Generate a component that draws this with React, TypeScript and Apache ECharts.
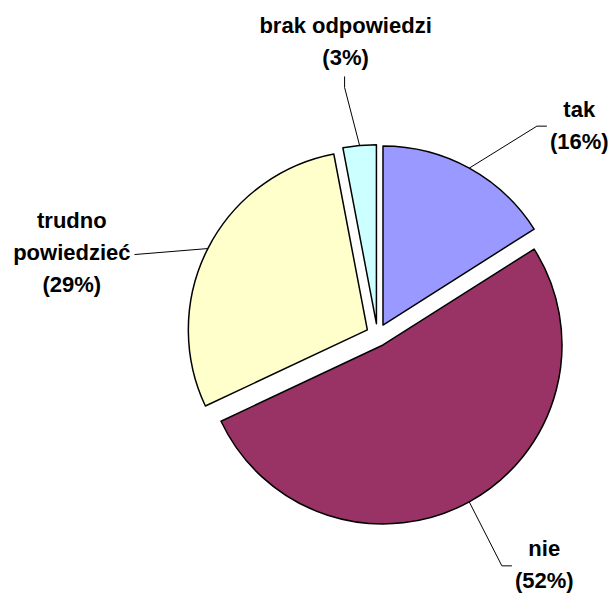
import { useEffect, useRef } from 'react';
import * as echarts from 'echarts';

const categories = ['tak', 'nie', 'trudno\npowiedzieć', 'brak odpowiedzi'];
const values = [16, 52, 29, 3];
const colors = ['#9999FF', '#993366', '#FFFFCC', '#CCFFFF'];
// label centre offset from the label line's anchor on the arc
const labelOffsets: number[][] = [
  [110, -43],
  [75, 63],
  [-136, 4],
  [-14, -104],
];

const CENTER = [377.5, 335];
const RADIUS = 179;
const EXPLODE = 11.4;

export default function App() {
  const ref = useRef<HTMLDivElement>(null);
  useEffect(() => {
    if (!ref.current) return;
    const chart = echarts.init(ref.current, undefined, { renderer: 'svg' });
    const total = values.reduce((a, b) => a + b, 0);
    let acc = 0;
    const series = categories.map((_, i) => {
      const mid = ((acc + values[i] / 2) / total) * Math.PI * 2;
      acc += values[i];
      const cx = CENTER[0] + EXPLODE * Math.sin(mid);
      const cy = CENTER[1] - EXPLODE * Math.cos(mid);
      const data = categories.map((name, j) =>
        j === i
          ? {
              name,
              value: values[j],
              itemStyle: { color: colors[j], borderColor: '#000', borderWidth: 1.5 },
            }
          : {
              name,
              value: values[j],
              itemStyle: { color: 'rgba(0,0,0,0)', borderWidth: 0 },
              label: { show: false },
              labelLine: { show: false },
            }
      );
      return {
        type: 'pie',
        center: [cx, cy],
        radius: RADIUS,
        startAngle: 90,
        clockwise: true,
        silent: true,
        emphasis: { disabled: true },
        label: {
          show: true,
          position: 'outside',
          formatter: '{b}\n({d}%)',
          fontFamily: 'Liberation Sans, Arial, sans-serif',
          fontWeight: 'bold',
          fontSize: 22,
          lineHeight: 32,
          color: '#000',
          align: 'center',
        },
        labelLine: {
          show: true,
          lineStyle: { color: '#000', width: 1 },
        },
        labelLayout: (params: any) => {
          const k = params.dataIndex;
          if (k !== i || !params.labelLinePoints) return {};
          const p0 = params.labelLinePoints[0];
          const x = p0[0] + labelOffsets[k][0];
          const y = p0[1] + labelOffsets[k][1];
          const w = params.labelRect.width;
          const h = params.labelRect.height;
          let pts: number[][];
          if (k === 0 || k === 1) {
            const left = x - w / 2;
            pts = [p0, [left - 13, y + 1], [left - 3, y + 1]];
          } else if (k === 2) {
            const right = x + w / 2;
            pts = [p0, [right + 4, y + 2], [right + 4, y + 2]];
          } else {
            const bottom = y + h / 2;
            pts = [p0, [x - 1, bottom + 14], [x - 1, bottom + 3]];
          }
          return {
            x,
            y,
            align: 'center',
            verticalAlign: 'middle',
            labelLinePoints: pts,
          };
        },
        data,
      };
    });
    chart.setOption({
      animation: false,
      backgroundColor: '#fff',
      series,
    });
    return () => chart.dispose();
  }, []);
  return (
    <div
      ref={ref}
      style={{ position: 'absolute', left: 0, top: 0, width: 614, height: 594, background: '#fff' }}
    />
  );
}
